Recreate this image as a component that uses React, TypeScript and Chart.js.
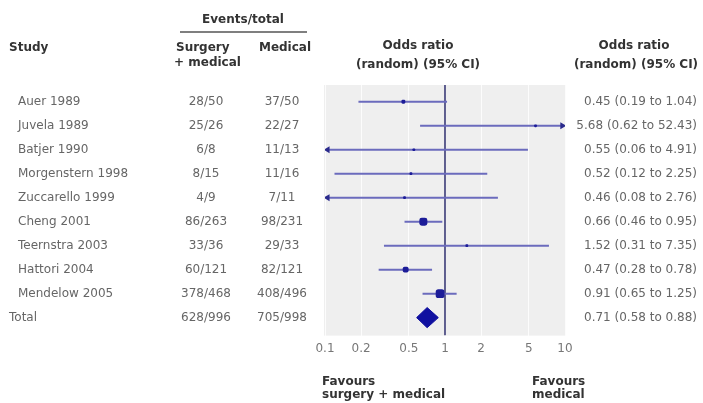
import React, { useEffect, useRef } from "react";
import { Chart, registerables } from "chart.js";

Chart.register(...registerables);

const studies = [
  "Auer 1989",
  "Juvela 1989",
  "Batjer 1990",
  "Morgenstern 1998",
  "Zuccarello 1999",
  "Cheng 2001",
  "Teernstra 2003",
  "Hattori 2004",
  "Mendelow 2005",
];
const surgeryEvents = ["28/50", "25/26", "6/8", "8/15", "4/9", "86/263", "33/36", "60/121", "378/468"];
const medicalEvents = ["37/50", "22/27", "11/13", "11/16", "7/11", "98/231", "29/33", "82/121", "408/496"];
const oddsRatio = [0.45, 5.68, 0.55, 0.52, 0.46, 0.66, 1.52, 0.47, 0.91];
const ciLower = [0.19, 0.62, 0.06, 0.12, 0.08, 0.46, 0.31, 0.28, 0.65];
const ciUpper = [1.04, 52.43, 4.91, 2.25, 2.76, 0.95, 7.35, 0.78, 1.25];
const weights = [7, 1.5, 1.5, 2.5, 2, 30, 3, 16, 36];

const totalLabel = "Total";
const totalSurgery = "628/996";
const totalMedical = "705/998";
const totalOR = 0.71;
const totalLower = 0.58;
const totalUpper = 0.88;

const xTicks = [0.1, 0.2, 0.5, 1, 2, 5, 10];
const axisMin = 0.1;
const axisMax = 10;

const FONT = "'DejaVu Sans', sans-serif";
const fmt = (v: number) => v.toFixed(2);

export default function App() {
  const ref = useRef<HTMLCanvasElement | null>(null);

  useEffect(() => {
    const canvas = ref.current;
    if (!canvas) return;
    const totalRow = studies.length;
    const clipLo = 0.105;
    const clipHi = 9.5;

    const ciDatasets: any[] = studies.map((_, i) => {
      const lo = ciLower[i];
      const hi = ciUpper[i];
      return {
        type: "line",
        data: [
          { x: Math.max(lo, clipLo), y: i },
          { x: Math.min(hi, clipHi), y: i },
        ],
        borderColor: "#6b6bbd",
        borderWidth: 2,
        pointStyle: "triangle",
        pointRadius: [lo < axisMin ? 4 : 0, hi > axisMax ? 4 : 0],
        rotation: [-90, 90],
        pointBackgroundColor: "#2a2a8c",
        pointBorderColor: "#2a2a8c",
        pointBorderWidth: 0,
        order: 3,
      };
    });

    const pointDataset: any = {
      type: "scatter",
      data: oddsRatio.map((v, i) => ({ x: v, y: i })),
      pointStyle: "rectRounded",
      pointRadius: weights.map((w) => Math.max(1.6, Math.sqrt(w) * 0.85)),
      backgroundColor: "#1c1c98",
      borderColor: "#1c1c98",
      borderWidth: 0,
      order: 2,
    };

    const h = 0.42;
    const diamondDataset: any = {
      type: "line",
      data: [
        { x: totalLower, y: totalRow },
        { x: totalOR, y: totalRow - h },
        { x: totalUpper, y: totalRow },
        { x: totalOR, y: totalRow + h },
        { x: totalLower, y: totalRow },
      ],
      borderColor: "#1010a0",
      backgroundColor: "#1010a0",
      borderWidth: 1,
      fill: "shape",
      pointRadius: 0,
      tension: 0,
      order: 1,
    };

    const vlineDataset: any = {
      type: "line",
      data: [
        { x: 1, y: -0.7 },
        { x: 1, y: 9.75 },
      ],
      borderColor: "#2e2e6e",
      borderWidth: 1.5,
      pointRadius: 0,
      order: 4,
    };

    const bgPlugin = {
      id: "bg",
      beforeDraw(chart: any) {
        const { ctx, chartArea } = chart;
        ctx.save();
        ctx.fillStyle = "#efefef";
        ctx.fillRect(chartArea.left - 1, chartArea.top, chartArea.right - chartArea.left + 2, chartArea.bottom - chartArea.top);
        ctx.restore();
      },
    };

    const textPlugin = {
      id: "texts",
      afterDraw(chart: any) {
        const { ctx } = chart;
        const y = chart.scales.y;
        ctx.save();
        ctx.textBaseline = "middle";

        // headers
        ctx.fillStyle = "#333";
        ctx.font = `bold 12px ${FONT}`;
        ctx.textAlign = "center";
        ctx.fillText("Events/total", 243, 20);
        ctx.textAlign = "left";
        ctx.fillText("Study", 9, 48);
        ctx.fillText("Surgery", 176, 48);
        ctx.fillText("+ medical", 174, 63);
        ctx.textAlign = "center";
        ctx.fillText("Medical", 285, 48);
        ctx.fillText("Odds ratio", 418, 46);
        ctx.fillText("(random) (95% CI)", 418, 65);
        ctx.fillText("Odds ratio", 634, 46);
        ctx.fillText("(random) (95% CI)", 636, 65);

        ctx.strokeStyle = "#555";
        ctx.lineWidth = 1.5;
        ctx.beginPath();
        ctx.moveTo(180, 32);
        ctx.lineTo(307, 32);
        ctx.stroke();

        // favours
        ctx.textAlign = "left";
        ctx.fillText("Favours", 322, 382);
        ctx.fillText("surgery + medical", 322, 395);
        ctx.fillText("Favours", 532, 382);
        ctx.fillText("medical", 532, 395);

        // rows
        ctx.fillStyle = "#666";
        ctx.font = `12px ${FONT}`;
        studies.forEach((s, i) => {
          const py = y.getPixelForValue(i);
          ctx.textAlign = "left";
          ctx.fillText(s, 18, py);
          ctx.textAlign = "center";
          ctx.fillText(surgeryEvents[i], 206, py);
          ctx.fillText(medicalEvents[i], 282, py);
          ctx.textAlign = "right";
          ctx.fillText(`${fmt(oddsRatio[i])} (${fmt(ciLower[i])} to ${fmt(ciUpper[i])})`, 697, py);
        });
        const ty = y.getPixelForValue(totalRow);
        ctx.textAlign = "left";
        ctx.fillText(totalLabel, 9, ty);
        ctx.textAlign = "center";
        ctx.fillText(totalSurgery, 206, ty);
        ctx.fillText(totalMedical, 282, ty);
        ctx.textAlign = "right";
        ctx.fillText(`${fmt(totalOR)} (${fmt(totalLower)} to ${fmt(totalUpper)})`, 697, ty);
        ctx.restore();
      },
    };

    const chart = new Chart(canvas, {
      type: "scatter",
      data: {
        datasets: [vlineDataset, ...ciDatasets, pointDataset, diamondDataset],
      },
      options: {
        animation: false,
        responsive: false,
        devicePixelRatio: 1,
        layout: { padding: { left: 325, right: 138, top: 85, bottom: 41 } },
        plugins: {
          legend: { display: false },
          tooltip: { enabled: false },
        },
        scales: {
          x: {
            type: "logarithmic",
            min: axisMin,
            max: axisMax,
            afterBuildTicks: (axis: any) => {
              axis.ticks = xTicks.map((v) => ({ value: v }));
            },
            ticks: {
              callback: (v: any) => String(v),
              color: "#777",
              font: { family: FONT, size: 12 },
              padding: 6,
              autoSkip: false,
              maxRotation: 0,
            },
            grid: { color: "rgba(255,255,255,0.8)", drawTicks: false, lineWidth: 1 },
            border: { display: false },
          },
          y: {
            type: "linear",
            min: -0.7,
            max: 9.75,
            reverse: true,
            display: false,
          },
        },
      } as any,
      plugins: [bgPlugin, textPlugin],
    });

    return () => chart.destroy();
  }, []);

  return (
    <div style={{ position: "absolute", left: 0, top: 0, width: 703, height: 403, background: "#fff" }}>
      <canvas ref={ref} width={703} height={403} style={{ display: "block" }} />
    </div>
  );
}
